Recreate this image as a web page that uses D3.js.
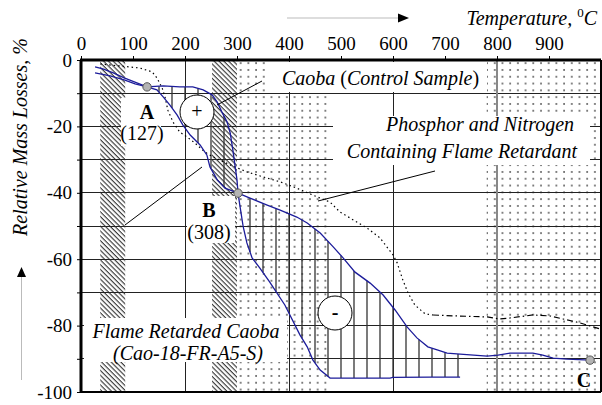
<!DOCTYPE html>
<html>
<head>
<meta charset="UTF-8">
<title>Relative Mass Losses vs Temperature</title>
<script src="https://d3js.org/d3.v7.min.js"></script>
</head>
<body style="margin:0">
<svg width="602" height="405"></svg>
<script>
// Temperature (C) / relative mass loss (%)
const controlT = [27, 42, 62, 83, 127, 158, 190, 215, 235, 252, 262, 271, 281, 287, 292, 296, 300, 302,
                  306, 312, 319, 329, 344, 363, 392, 421, 435, 446, 460, 479, 537, 594, 600, 671, 729];
const controlM = [-2.1, -2.7, -3.9, -5.4, -8.1, -7.8, -8.1, -8.1, -9.0, -10.5, -12.7, -15.7, -18.7, -22.0, -27.1, -31.6, -36.1, -40.1,
                  -44.3, -50.3, -55.1, -59.6, -62.7, -66.9, -73.8, -82.8, -86.4, -90.4, -93.4, -95.8, -95.8, -95.8, -95.6, -95.5, -95.5];

const frT = [27, 56, 83, 104, 127, 146, 158, 171, 185, 196, 210, 229, 242, 248, 262, 277, 302,
             325, 358, 383, 415, 435, 460, 485, 504, 527, 556, 581, 604, 627, 646, 667, 685, 704, 729,
             781, 802, 825, 869, 888, 908, 935, 979];
const frM = [-3.9, -4.8, -6.0, -7.2, -8.1, -9.0, -11.1, -13.6, -16.6, -19.6, -22.6, -25.6, -28.6, -32.2, -36.1, -38.6, -40.1,
             -41.6, -43.7, -45.2, -47.3, -49.1, -52.1, -56.3, -59.6, -63.9, -67.2, -70.8, -75.3, -80.4, -83.7, -86.4, -87.3, -88.3, -88.6,
             -89.2, -88.9, -88.3, -88.3, -88.9, -89.8, -90.1, -90.4];

const agentT = [37, 75, 113, 137, 146, 156, 162, 167, 177, 190, 204, 219, 238, 254, 287, 319, 350, 383, 415, 446, 479, 498,
                550, 575, 600, 608, 619, 629, 642, 662, 677, 723, 781, 806, 825, 869, 902, 927, 960, 979, 998];
const agentM = [-1.2, -1.8, -2.4, -3.6, -5.4, -8.4, -11.4, -15.1, -18.7, -21.7, -23.2, -25.0, -27.7, -29.2, -31.6, -33.7, -35.2, -36.7, -38.6, -40.7, -42.8, -45.8,
                -50.6, -53.6, -58.7, -61.1, -66.3, -70.2, -73.8, -76.5, -76.8, -77.1, -77.4, -78.0, -77.7, -76.8, -77.1, -78.0, -79.2, -80.1, -81.0];

const xTicks = [0, 100, 200, 300, 400, 500, 600, 700, 800, 900];
const yTicks = [0, -10, -20, -30, -40, -50, -60, -70, -80, -90, -100];
const yLabels = [0, -20, -40, -60, -80, -100];
const xGrid = [200, 400, 600];
const yGrid = [-10, -20, -30, -40, -50, -60, -70, -80, -90];

const stripeBands = [[37, 85], [252, 300]];
const dotBands = [[300, 475], [780, 1000]];
const plusHatch = [150, 175, 200, 225, 250, 275];
const minusHatch = [325, 350, 375, 400, 425, 450, 475, 500, 525, 550, 575, 600, 625, 650, 675, 700, 725];

const points = [{name: "A", t: 127, m: -8.1}, {name: "B", t: 302, m: -40.1}, {name: "C", t: 979, m: -90.4}];

const control = controlT.map((t, i) => ({t, m: controlM[i]}));
const fr = frT.map((t, i) => ({t, m: frM[i]}));
const agent = agentT.map((t, i) => ({t, m: agentM[i]}));

const svg = d3.select("svg");
const x = d3.scaleLinear().domain([0, 1000]).range([81, 601]);
const y = d3.scaleLinear().domain([0, -100]).range([60, 392]);

// patterns
const defs = svg.append("defs");
const diag = defs.append("pattern").attr("id", "diag").attr("patternUnits", "userSpaceOnUse")
  .attr("width", 8).attr("height", 3.4).attr("patternTransform", "rotate(45)");
diag.append("rect").attr("width", 8).attr("height", 1.15).attr("fill", "#3a3a3a");
const dots = defs.append("pattern").attr("id", "dots").attr("patternUnits", "userSpaceOnUse")
  .attr("width", 7.7).attr("height", 6.8);
dots.append("circle").attr("cx", 2).attr("cy", 2).attr("r", 0.95).attr("fill", "#555");

stripeBands.forEach(b => {
  svg.append("rect").attr("x", x(b[0])).attr("y", y(0)).attr("width", x(b[1]) - x(b[0]))
    .attr("height", y(-100) - y(0)).attr("fill", "url(#diag)");
});
dotBands.forEach(b => {
  svg.append("rect").attr("x", x(b[0])).attr("y", y(0)).attr("width", x(b[1]) - x(b[0]))
    .attr("height", y(-100) - y(0)).attr("fill", "url(#dots)");
});

// grid
svg.append("g").selectAll("line").data(yGrid).join("line")
  .attr("x1", x(0)).attr("x2", x(1000)).attr("y1", d => y(d)).attr("y2", d => y(d))
  .attr("stroke", "#222").attr("stroke-width", 1).attr("shape-rendering", "crispEdges");
svg.append("g").selectAll("line").data(xGrid).join("line")
  .attr("x1", d => x(d)).attr("x2", d => x(d)).attr("y1", y(0)).attr("y2", y(-100))
  .attr("stroke", "#222").attr("stroke-width", 1).attr("shape-rendering", "crispEdges");
svg.append("line").attr("x1", x(800)).attr("x2", x(800)).attr("y1", y(0)).attr("y2", y(-100))
  .attr("stroke", "#888").attr("stroke-width", 2);

// white boxes behind labels
const boxes = [[270, 62, 217, 30], [333, 116, 257, 49], [84, 318, 203, 44], [121, 98, 40, 48], [187, 196, 48, 47]];
boxes.forEach(b => svg.append("rect").attr("x", b[0]).attr("y", b[1]).attr("width", b[2]).attr("height", b[3]).attr("fill", "#fff"));

// hatch between curves
const interp = (arr, t) => {
  const i = d3.bisector(d => d.t).left(arr, t);
  if (i <= 0) return arr[0].m;
  if (i >= arr.length) return arr[arr.length - 1].m;
  const a = arr[i - 1], b = arr[i];
  return a.m + (b.m - a.m) * (t - a.t) / (b.t - a.t);
};
svg.append("g").selectAll("line").data(plusHatch.concat(minusHatch)).join("line")
  .attr("x1", d => x(d)).attr("x2", d => x(d))
  .attr("y1", d => y(interp(control, d))).attr("y2", d => y(interp(fr, d)))
  .attr("stroke", "#333").attr("stroke-width", 1.3);

// axes
const topAxis = svg.append("g").attr("transform", `translate(0,${y(0)})`)
  .call(d3.axisTop(x).tickValues(xTicks).tickSize(4).tickPadding(6));
topAxis.select(".domain").remove();
const leftAxis = svg.append("g").attr("transform", `translate(${x(0)},0)`)
  .call(d3.axisLeft(y).tickValues(yTicks).tickSize(4).tickPadding(5)
    .tickFormat(d => yLabels.includes(d) ? d : ""));
leftAxis.select(".domain").remove();
[topAxis, leftAxis].forEach(a => a.attr("font-family", null).attr("font-size", null)
  .selectAll("text").style("font-size", "19px").attr("fill", "#000"));

// frame
svg.append("line").attr("x1", x(0) - 1).attr("x2", x(1000)).attr("y1", y(0)).attr("y2", y(0)).attr("stroke", "#000").attr("stroke-width", 3);
svg.append("line").attr("x1", x(0)).attr("x2", x(0)).attr("y1", y(0)).attr("y2", y(-100) + 1).attr("stroke", "#000").attr("stroke-width", 3);
svg.append("line").attr("x1", x(0)).attr("x2", x(1000)).attr("y1", y(-100)).attr("y2", y(-100)).attr("stroke", "#000").attr("stroke-width", 2);
svg.append("line").attr("x1", x(1000)).attr("x2", x(1000)).attr("y1", y(0)).attr("y2", y(-100)).attr("stroke", "#000").attr("stroke-width", 2);

// curves
const line = d3.line().x(d => x(d.t)).y(d => y(d.m));
svg.append("path").datum(agent.filter(d => d.t <= 677)).attr("d", line).attr("fill", "none")
  .attr("stroke", "#000").attr("stroke-width", 1.2).attr("stroke-dasharray", "1.5,3");
svg.append("path").datum(agent.filter(d => d.t >= 677)).attr("d", line).attr("fill", "none")
  .attr("stroke", "#000").attr("stroke-width", 1.2).attr("stroke-dasharray", "6,3,1.5,3");
svg.append("path").datum(control).attr("d", line).attr("fill", "none").attr("stroke", "#1c1c9a").attr("stroke-width", 1.3);
svg.append("path").datum(fr).attr("d", line).attr("fill", "none").attr("stroke", "#1c1c9a").attr("stroke-width", 1.3);

// leader lines
const leaders = [[262, 81, 217, 105], [435, 171, 318, 201], [125, 225, 202, 167]];
leaders.forEach(l => svg.append("line").attr("x1", l[0]).attr("y1", l[1]).attr("x2", l[2]).attr("y2", l[3])
  .attr("stroke", "#000").attr("stroke-width", 1));

// +/- circles
[[197, 112, "+"], [335, 313, "-"]].forEach(c => {
  svg.append("circle").attr("cx", c[0]).attr("cy", c[1]).attr("r", 17).attr("fill", "#fff").attr("stroke", "#000").attr("stroke-width", 1);
  svg.append("text").attr("x", c[0]).attr("y", c[1] + 6).attr("text-anchor", "middle").style("font-size", "20px")
    .style("font-weight", c[2] === "-" ? "bold" : "normal").text(c[2]);
});

// points
svg.append("g").selectAll("circle").data(points).join("circle")
  .attr("cx", d => x(d.t)).attr("cy", d => y(d.m)).attr("r", 4.2)
  .attr("fill", "#b4b4b4").attr("stroke", "#555").attr("stroke-width", 1);

// point labels
const lab = (tx, ty, str, bold) => svg.append("text").attr("x", tx).attr("y", ty).attr("text-anchor", "middle")
  .style("font-size", "20px").style("font-weight", bold ? "bold" : "normal").text(str);
lab(147, 119, "A", true); lab(142, 140, "(127)", false);
lab(209, 217, "B", true); lab(209, 239, "(308)", false);
lab(584, 387, "C", true);

// series labels
const t1 = svg.append("text").attr("x", 282).attr("y", 85).style("font-size", "20px");
t1.append("tspan").style("font-style", "italic").text("Caoba");
t1.append("tspan").text(" (");
t1.append("tspan").style("font-style", "italic").text("Control Sample");
t1.append("tspan").text(")");
const itText = (tx, ty, str) => svg.append("text").style("font-style", "italic").attr("x", tx).attr("y", ty)
  .attr("text-anchor", "middle").style("font-size", "20px").text(str);
itText(480, 131, "Phosphor and Nitrogen");
itText(462, 158, "Containing Flame Retardant");
itText(186, 338, "Flame Retarded Caoba");
itText(188, 360, "(Cao-18-FR-A5-S)");

// axis titles + arrows
const tt = svg.append("text").attr("x", 597).attr("y", 25).attr("text-anchor", "end").style("font-size", "20px");
tt.append("tspan").style("font-style", "italic").text("Temperature, ");
tt.append("tspan").style("font-size", "13px").attr("dy", -8).text("0");
tt.append("tspan").style("font-style", "italic").attr("dy", 8).text("C");
svg.append("line").attr("x1", 287).attr("x2", 400).attr("y1", 18).attr("y2", 18).attr("stroke", "#bbb").attr("stroke-width", 1);
svg.append("path").attr("d", "M398,13.5 L409,18 L398,22.5 Z").attr("fill", "#000");

svg.append("text").style("font-style", "italic").attr("transform", "translate(27,137) rotate(-90)")
  .attr("text-anchor", "middle").style("font-size", "20px").text("Relative Mass Losses, %");
svg.append("line").attr("x1", 21.5).attr("x2", 21.5).attr("y1", 380).attr("y2", 276).attr("stroke", "#bbb").attr("stroke-width", 1);
svg.append("path").attr("d", "M17,277 L21.5,267 L26,277 Z").attr("fill", "#000");

svg.selectAll("text").style("font-family", "\"Liberation Serif\"");
</script>
</body>
</html>
